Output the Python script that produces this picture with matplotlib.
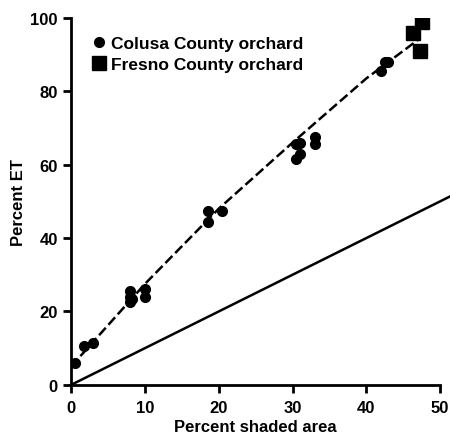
import numpy as np
import matplotlib
matplotlib.use('Agg')
import matplotlib.pyplot as plt

plt.rcParams['font.family'] = ['Liberation Sans', 'DejaVu Sans']
plt.rcParams['font.weight'] = 'bold'

# Colusa County orchard points (percent shaded area, percent ET)
colusa_x = [0.5, 1.8, 3.0, 8.0, 8.0, 8.0, 8.2, 10.0, 10.0, 18.5, 18.5, 20.5,
            30.5, 30.5, 31.0, 31.0, 33.0, 33.0, 42.0, 42.5, 43.0]
colusa_y = [6.0, 10.5, 11.5, 22.5, 24.0, 25.5, 23.5, 24.0, 26.0, 44.5, 47.5, 47.5,
            61.5, 65.5, 63.0, 66.0, 65.5, 67.5, 85.5, 88.0, 88.0]

# Fresno County orchard points
fresno_x = [46.3, 47.6, 47.3]
fresno_y = [96.0, 98.8, 91.0]

# dashed fitted curve
fit_x = [0, 10, 20, 30, 40, 47]
fit_y = [5.0, 27.5, 48.0, 66.0, 83.5, 94.0]

# solid 1:1 line
ref_x = [0, 51.5]
ref_y = [0, 51.5]

fig = plt.figure(figsize=(4.5, 4.39), dpi=100)
ax = fig.add_axes([0.158, 0.121, 0.82, 0.836])

ax.plot(fit_x, fit_y, color='black', lw=1.8, ls=(0, (4, 1.6)), zorder=2)
ax.plot(ref_x, ref_y, color='black', lw=1.8, clip_on=False, zorder=2)
ax.plot(colusa_x, colusa_y, 'o', color='black', ms=7, label='Colusa County orchard', zorder=3)
ax.plot(fresno_x, fresno_y, 's', color='black', ms=10, label='Fresno County orchard', zorder=3)

ax.set_xlim(0, 50)
ax.set_ylim(0, 100)
ax.set_xticks([0, 10, 20, 30, 40, 50])
ax.set_yticks([0, 20, 40, 60, 80, 100])
for s in ['top', 'right']:
    ax.spines[s].set_visible(False)
for s in ['left', 'bottom']:
    ax.spines[s].set_linewidth(2)
ax.tick_params(width=2, length=6, labelsize=12)
ax.tick_params(axis='x', pad=5)

ax.set_xlabel('Percent shaded area', fontsize=12, fontweight='bold', labelpad=3)
ax.set_ylabel('Percent ET', fontsize=12, fontweight='bold', labelpad=3)

ax.legend(loc='upper left', bbox_to_anchor=(0.02, 0.985), frameon=False,
          handletextpad=0.2, handlelength=1.0, borderaxespad=0.3,
          labelspacing=0.35, prop={'weight': 'bold', 'size': 12.5})

fig.savefig('out.png', dpi=100)
